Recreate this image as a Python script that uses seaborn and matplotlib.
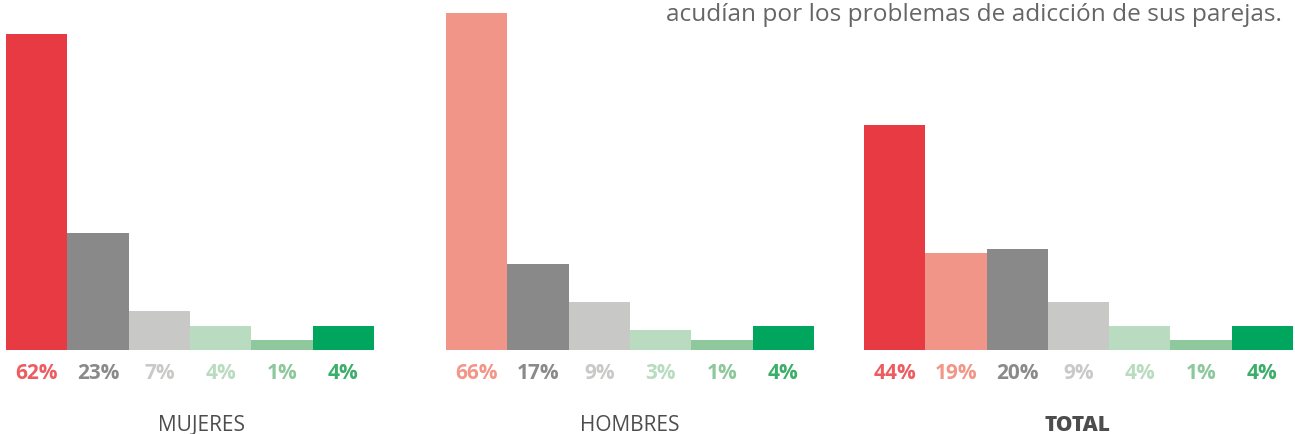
import matplotlib
matplotlib.use("Agg")
import matplotlib.pyplot as plt
import seaborn as sns
import pandas as pd

# category codes -> bar colour
cat_colors = {
    "c1": "#E83A43",
    "c2": "#F19588",
    "c3": "#898989",
    "c4": "#C8C8C6",
    "c5": "#B9DBC0",
    "c6": "#90C89D",
    "c7": "#00A55E",
}
# the value labels are drawn a little lighter than the bars
label_colors = {
    "c1": "#EC5C60",
    "c2": "#F29688",
    "c3": "#8A8A8A",
    "c4": "#C9C9C8",
    "c5": "#B9DCC0",
    "c6": "#8DC89B",
    "c7": "#3DAE6A",
}

mujeres_cats = ["c1", "c3", "c4", "c5", "c6", "c7"]
mujeres_pct = [62, 23, 7, 4, 1, 4]
mujeres_height = [62, 23, 7.7, 4.7, 2.0, 4.7]

hombres_cats = ["c2", "c3", "c4", "c5", "c6", "c7"]
hombres_pct = [66, 17, 9, 3, 1, 4]
hombres_height = [66, 16.9, 9.4, 3.9, 2.0, 4.7]

total_cats = ["c1", "c2", "c3", "c4", "c5", "c6", "c7"]
total_pct = [44, 19, 20, 9, 4, 1, 4]
total_height = [44.1, 19, 19.8, 9.4, 4.7, 2.0, 4.7]

group_names = ["MUJERES", "HOMBRES", "TOTAL"]
subtitle = "acudían por los problemas de adicción de sus parejas."

sns.set_theme(style="white")
plt.rcParams["font.family"] = ["Open Sans", "DejaVu Sans"]

W, H = 1295, 435
fig = plt.figure(figsize=(W / 100, H / 100), dpi=100)

# axes boxes in pixels: left, width
boxes = [(6, 368), (446, 368), (864, 429)]
base_px = 351
px_per_pct = 5.1

panels = [
    (mujeres_cats, mujeres_pct, mujeres_height),
    (hombres_cats, hombres_pct, hombres_height),
    (total_cats, total_pct, total_height),
]

for (left, width), (cats, pct, height) in zip(boxes, panels):
    ax = fig.add_axes([left / W, (H - base_px) / H, width / W, base_px / H])
    df = pd.DataFrame({"cat": cats, "value": height})
    sns.barplot(data=df, x="cat", y="value", hue="cat", palette=cat_colors,
                order=cats, width=1, saturation=1, linewidth=0, legend=False, ax=ax)
    ax.set_xlim(-0.5, len(cats) - 0.5)
    ax.set_ylim(0, base_px / px_per_pct)
    ax.axis("off")
    for i, (c, p) in enumerate(zip(cats, pct)):
        ax.annotate(f"{p}%", xy=(i, 0), xytext=(0, -16.5), textcoords="offset points",
                    ha="center", va="center", fontsize=15, fontweight="bold",
                    color=label_colors[c], annotation_clip=False)

# group names under each panel
label_x = [202, 630, 1077]
for name, x in zip(group_names, label_x):
    bold = name == "TOTAL"
    fig.text(x / W, (H - 426) / H, name, ha="center", va="center", fontsize=15,
             fontweight="heavy" if bold else "normal", color="#4d4d4d")

# last line of the title (kept just inside the top edge)
fig.text(1282 / W, (H - 21) / H, subtitle, ha="right", va="baseline",
         fontsize=17.6, color="#666666")

fig.savefig("out.png", dpi=100)
